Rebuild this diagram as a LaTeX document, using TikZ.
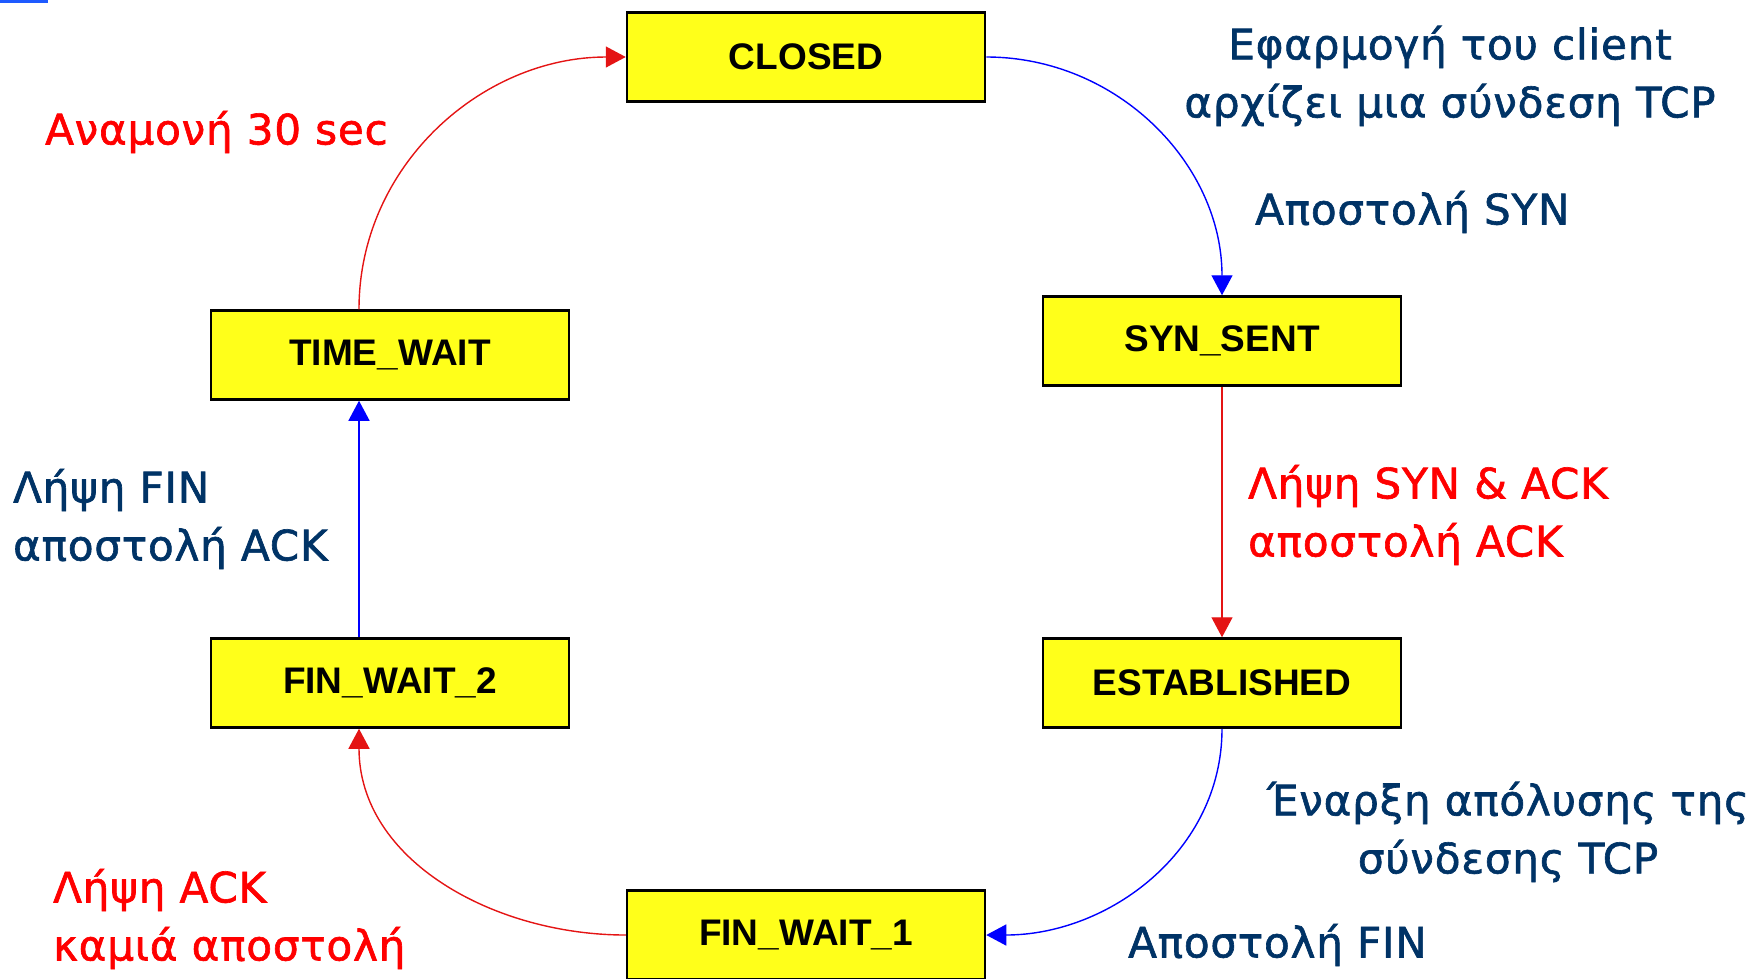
\documentclass[tikz,border=0pt]{standalone}
\usepackage{fontspec}
\setmainfont{DejaVu Sans}
\newfontfamily\boxfont{Liberation Sans}
\newfontfamily\lblfont[LetterSpace=2,FakeBold=1.5]{DejaVu Sans}
\usetikzlibrary{shapes,arrows.meta,positioning,calc}

\definecolor{navy}{RGB}{0,51,102}
\definecolor{boxyellow}{RGB}{255,255,26}
\definecolor{linkblue}{RGB}{30,90,255}
\definecolor{arrred}{RGB}{228,20,20}

\tikzset{
  tcpstate/.style={draw=black, line width=2.5pt, fill=boxyellow,
    minimum width=358pt, minimum height=89pt, inner sep=0pt,
    font=\boxfont\bfseries\fontsize{37}{40}\selectfont},
  lbl/.style={inner sep=0pt, font=\lblfont\fontsize{42}{58}\selectfont},
  bluelbl/.style={lbl, text=navy},
  redlbl/.style={lbl, text=red},
  bluearr/.style={draw=blue, line width=1.4pt, -{Triangle[length=20pt,width=21pt]}},
  redarr/.style={draw=arrred, line width=1.4pt, -{Triangle[length=20pt,width=21pt]}}
}

\begin{document}
\begin{tikzpicture}[x=1pt, y=1pt]
                    \path[use as bounding box, clip] (0,0) rectangle (1747,-978);
                    \fill[linkblue] (0,0) rectangle (48,-3);

                    % states
                    \node[tcpstate] (closed) at (806,-57) {CLOSED};
                    \node[tcpstate] (synsent) at (1222,-341) {SYN\_SENT};
                    \node[tcpstate] (estab) at (1222,-683) {ESTABLISHED};
                    \node[tcpstate] (fwone) at (806,-935) {FIN\_WAIT\_1};
                    \node[tcpstate] (fwtwo) at (390,-683) {FIN\_WAIT\_2};
                    \node[tcpstate] (timewait) at (390,-355) {TIME\_WAIT};

                    % transitions
                    \draw[bluearr] (closed.east) to[out=0,in=90] (synsent.north);
                    \draw[redarr] (synsent) -- (estab);
                    \draw[bluearr] (estab.south) to[out=-90,in=0] (fwone.east);
                    \draw[redarr] (fwone.west) to[out=180,in=-90] ([xshift=-31pt]fwtwo.south);
                    \draw[bluearr] ([xshift=-31pt]fwtwo.north) -- ([xshift=-31pt]timewait.south);
                    \draw[redarr] ([xshift=-31pt]timewait.north) to[out=90,in=180] (closed.west);

                    % labels
                    \node[bluelbl, align=center] (lclient) at (1450,-76) {Εφαρμογή του client\\αρχίζει μια σύνδεση TCP};
                    \node[bluelbl, anchor=west] (lsyn) at (1255,-212) {Αποστολή SYN};
                    \node[redlbl, anchor=west, align=left] (lsynack) at (1248,-515) {Λήψη SYN \& ACK\\αποστολή ACK};
                    \node[bluelbl, align=center] (lclose) at (1508,-832) {Έναρξη απόλυσης της\\σύνδεσης TCP};
                    \node[bluelbl, anchor=west] (lfin) at (1128,-945) {Αποστολή FIN};
                    \node[redlbl, anchor=west, align=left] (lack) at (53,-919) {Λήψη ACK\\καμιά αποστολή};
                    \node[bluelbl, anchor=west, align=left] (lfinack) at (13,-519) {Λήψη FIN\\αποστολή ACK};
                    \node[redlbl, anchor=west] (lwait) at (45,-132) {Αναμονή 30 sec};
                \end{tikzpicture}
\end{document}
